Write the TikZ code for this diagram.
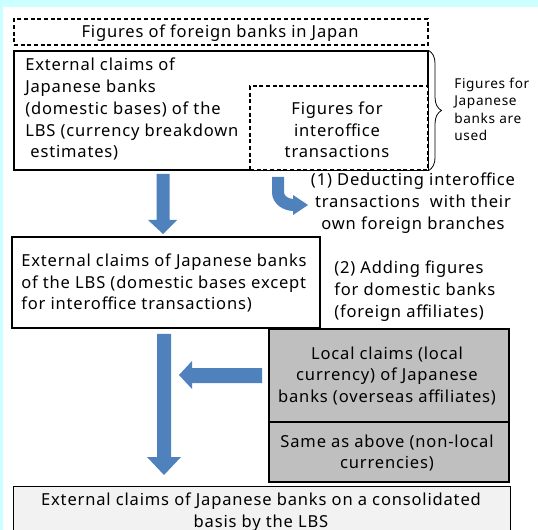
\documentclass[tikz,border=0pt]{standalone}
\usepackage{fontspec}
\setmainfont{Noto Sans}[LetterSpace=5]
\usetikzlibrary{decorations.pathreplacing,calc}
\definecolor{bgcyan}{HTML}{CCFFFF}
\definecolor{arrowblue}{HTML}{4F81BD}
\definecolor{grayfill}{HTML}{BFBFBF}
\definecolor{lightfill}{HTML}{F2F2F2}
\tikzset{
  x=0.75pt, y=-0.75pt,
  box/.style={draw=black, line width=0.8pt, inner sep=0pt},
  dbox/.style={draw=black, line width=0.8pt, dash pattern=on 3pt off 2pt, inner sep=0pt},
  txt/.style={inner sep=0pt, font=\fontsize{12.4}{16.3}\selectfont},
  small/.style={inner sep=0pt, font=\fontsize{10.2}{13}\selectfont},
  blockarrow/.style={fill=arrowblue, draw=none},
}
\begin{document}
\begin{tikzpicture}
\useasboundingbox (0,0) rectangle (538,530);
\fill[bgcyan] (0,0) rectangle (538,530);
\fill[white] (3,7) rectangle (538,530);

% top dashed box
\node[dbox, minimum width=414*0.75pt, minimum height=26*0.75pt] (top) at (221,32) {};
\node[txt] (toptext) at (220,33) {Figures of foreign banks in Japan};

% main box
\node[box, minimum width=414*0.75pt, minimum height=119*0.75pt] (main) at (221,110.5) {};
\node[txt, anchor=north west, align=left] (maintext) at (25,58) {External claims of\\Japanese banks\\(domestic bases) of the\\LBS (currency breakdown\\\ estimates)};

% inner dashed box
\node[dbox, fill=white, minimum width=178*0.75pt, minimum height=84*0.75pt] (inner) at (339,128) {};
\node[txt, align=center] (innertext) at (337,130) {Figures for\\interoffice\\transactions};

% brace
\draw[decorate, decoration={brace, amplitude=13*0.75pt}, line width=0.6pt] (main.north east) -- (main.south east) coordinate (bracebot);
\node[small, anchor=north west, align=left] (side) at (454,78) {Figures for\\Japanese\\banks are\\used};

% arrow 1 down
\coordinate (a1s) at (163,174);
\coordinate (a1t) at (163,234);
\fill[blockarrow] ($(a1s)+(-6.5,0)$) -- ($(a1s)+(6.5,0)$) -- (169.5,220) -- (177,220) -- (a1t) -- (148,220) -- (156.5,220) -- cycle;

% curved arrow
\coordinate (cs) at (278,177);
\coordinate (ct) at (308,205);
\draw[arrowblue, line width=12*0.75pt] (cs) -- (278,192) to[out=-90,in=180] (294,205);
\fill[blockarrow] (293,195) -- (ct) -- (293,215) -- cycle;
\node[txt, align=center] (step1) at (413,203) {(1) Deducting interoffice\\transactions\ \ with their\\own foreign branches};

% box 2
\node[box, minimum width=308*0.75pt, minimum height=91*0.75pt] (box2) at (166,282.5) {};
\node[txt, anchor=west, align=left] (box2text) at (21,283) {External claims of Japanese banks\\of the LBS (domestic bases except\\for interoffice transactions)};

\node[txt, anchor=west, align=left] (step2) at (334,291) {(2) Adding figures\\for domestic banks\\(foreign affiliates)};

% gray boxes
\node[box, fill=grayfill, minimum width=240*0.75pt, minimum height=93*0.75pt] (gray1) at (389,375.5) {};
\node[txt, align=center] (gray1text) at (387,376) {Local claims (local\\currency) of Japanese\\banks (overseas affiliates)};
\node[box, fill=grayfill, minimum width=240*0.75pt, minimum height=60*0.75pt] (gray2) at (389,452) {};
\node[txt, align=center] (gray2text) at (387,453) {Same as above (non-local\\currencies)};

% long arrow down
\coordinate (a2s) at (164,334);
\coordinate (a2t) at (164,475);
\fill[blockarrow] ($(a2s)+(-7,0)$) -- ($(a2s)+(7,0)$) -- (171,457) -- (181,457) -- (a2t) -- (147,457) -- (157,457) -- cycle;

% left arrow
\coordinate (a3s) at (262,375.5);
\coordinate (a3t) at (179,375);
\fill[blockarrow] (262,368) -- (192,368) -- (192,361) -- (a3t) -- (192,389) -- (192,383) -- (262,383) -- cycle;

% bottom box
\node[box, fill=lightfill, minimum width=497*0.75pt, minimum height=60*0.75pt, anchor=north west] (bottom) at (13,486) {};
\node[txt, align=center] (bottomtext) at (261,512) {External claims of Japanese banks on a consolidated\\basis by the LBS};
\end{tikzpicture}
\end{document}
